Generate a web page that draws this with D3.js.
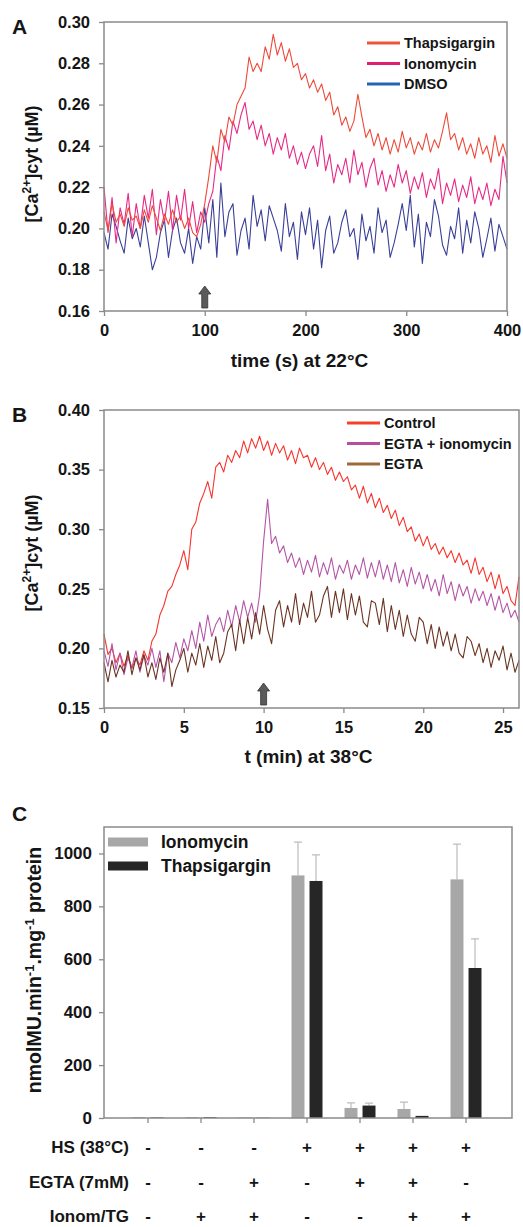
<!DOCTYPE html>
<html>
<head>
<meta charset="utf-8">
<script src="https://cdn.jsdelivr.net/npm/d3@7"></script>
<style>
body { margin: 0; background: #fff; }
text { font-family: "Liberation Sans", Arial, sans-serif; font-weight: bold; fill: #151515; }
</style>
</head>
<body>
<div id="chart"></div>
<script>
// ---- panel A : [Ca2+]cyt at 22°C, one reading every 4 s ----
var timeA = d3.range(0, 404, 4);
var thapsA = [
    .208,.199,.212,.203,.207, .201,.210,.204,.206,.200, .209,.203,.211,.205,.199, .207,.202,.209,.203,.206,
    .200,.205,.198,.196,.202, .212,.225,.240,.232,.248, .242,.254,.250,.260,.264, .268,.283,.276,.280,.276,
    .288,.282,.294,.284,.290, .281,.287,.278,.280,.272, .275,.268,.272,.266,.270, .262,.266,.255,.259,.250,
    .254,.247,.252,.265,.254, .244,.248,.240,.246,.238, .244,.236,.243,.237,.247, .239,.244,.236,.242,.238,
    .246,.237,.243,.239,.247, .256,.243,.246,.238,.244, .236,.241,.234,.244,.236, .240,.232,.245,.235,.241,
    .234];
var ionoA = [
    .220,.198,.215,.193,.210, .202,.217,.196,.212,.200, .216,.205,.219,.197,.214, .203,.218,.199,.216,.204,
    .219,.200,.213,.198,.208, .203,.212,.218,.235,.228, .245,.238,.252,.246,.255, .261,.248,.252,.243,.250,
    .240,.246,.236,.244,.238, .246,.234,.240,.231,.237, .229,.236,.240,.230,.245, .228,.236,.222,.231,.226,
    .234,.222,.238,.226,.232, .220,.229,.234,.221,.228, .218,.226,.220,.231,.222, .228,.217,.225,.219,.227,
    .215,.224,.219,.229,.212, .222,.216,.224,.213,.221, .215,.225,.212,.220,.214, .222,.211,.219,.214,.235,
    .222];
var dmsoA = [
    .198,.190,.207,.201,.194, .188,.205,.195,.200,.191, .206,.193,.180,.186,.198, .204,.186,.199,.205,.193,
    .188,.200,.183,.196,.190, .210,.193,.214,.186,.222, .196,.208,.212,.187,.199, .205,.190,.216,.201,.209,
    .194,.211,.205,.199,.189, .212,.196,.203,.185,.208, .197,.210,.190,.204,.181, .199,.206,.188,.193,.203,
    .209,.196,.200,.185,.207, .194,.201,.188,.210,.198, .204,.186,.193,.202,.212, .199,.216,.191,.207,.183,
    .203,.196,.214,.206,.192, .187,.201,.195,.210,.188, .204,.193,.208,.200,.186, .195,.205,.189,.202,.196,
    .190];
var ticksAx = [0, 100, 200, 300, 400];
var ticksAy = [0.16, 0.18, 0.20, 0.22, 0.24, 0.26, 0.28, 0.30];
var arrowA = 100;

// ---- panel B : [Ca2+]cyt at 38°C, one reading every 0.25 min ----
var timeB = d3.range(0, 26.25, 0.25);
var controlB = [
    .212,.195,.200,.188, .196,.185,.194,.183, .192,.186,.198,.190, .206,.212,.228,.236, .248,.252,.262,.270,
    .282,.266,.300,.306, .322,.330,.340,.326, .352,.356,.348,.362, .356,.366,.360,.374, .364,.376,.368,.378,
    .366,.374,.362,.372, .364,.370,.358,.366, .355,.368,.360,.362, .352,.360,.350,.356, .346,.352,.341,.348,
    .340,.344,.333,.337, .326,.336,.322,.330, .318,.326,.314,.320, .309,.316,.303,.310, .298,.302,.290,.296,
    .286,.294,.283,.288, .279,.285,.276,.282, .272,.280,.270,.274, .263,.276,.262,.268, .256,.264,.250,.262,
    .246,.252,.240,.236, .260];
var egtaIonoB = [
    .198,.185,.204,.182, .196,.178,.192,.184, .198,.180,.194,.186, .200,.184,.198,.172, .196,.188,.205,.192,
    .208,.198,.215,.200, .222,.206,.228,.210, .220,.226,.214,.232, .218,.236,.222,.240, .226,.238,.222,.245,
    .290,.325,.288,.294, .280,.286,.272,.280, .268,.276,.262,.274, .264,.278,.260,.272, .262,.276,.258,.270,
    .263,.274,.258,.270, .262,.276,.259,.272, .260,.274,.258,.270, .256,.272,.255,.266, .252,.268,.254,.264,
    .250,.262,.248,.258, .244,.262,.246,.256, .240,.254,.244,.252, .238,.250,.240,.248, .236,.246,.232,.244,
    .230,.238,.226,.232, .222];
var egtaB = [
    .188,.172,.190,.176, .186,.180,.198,.178, .192,.182,.195,.176, .188,.174,.192,.180, .196,.168,.182,.190,
    .200,.180,.196,.186, .204,.184,.202,.190, .210,.188,.196,.214, .220,.198,.224,.204, .226,.208,.230,.212,
    .236,.216,.204,.232, .240,.218,.236,.222, .246,.220,.238,.226, .248,.222,.228,.244, .252,.226,.248,.230,
    .250,.224,.246,.228, .244,.222,.218,.240, .238,.220,.242,.214, .236,.216,.232,.210, .228,.212,.206,.226,
    .222,.204,.220,.200, .218,.202,.214,.198, .212,.196,.192,.210, .206,.194,.204,.188, .200,.184,.198,.190,
    .202,.182,.196,.180, .190];
var ticksBx = [0, 5, 10, 15, 20, 25];
var ticksBy = [0.15, 0.20, 0.25, 0.30, 0.35, 0.40];
var arrowB = 10;

// ---- panel C : GUS activity ----
var groups = ["g1", "g2", "g3", "g4", "g5", "g6", "g7"];
var ionoC = [3, 3, 2, 917, 38, 34, 902];
var ionoErr = [0, 0, 0, 126, 19, 26, 133];
var thapsC = [2, 3, 1, 896, 47, 8, 567];
var thapsErr = [0, 0, 0, 99, 9, 0, 110];
var ticksCy = [0, 200, 400, 600, 800, 1000];
var rowHS = ["-", "-", "-", "+", "+", "+", "+"];
var rowEGTA = ["-", "-", "+", "-", "+", "+", "-"];
var rowIonom = ["-", "+", "+", "-", "-", "+", "+"];

var width = 523;
var height = 1227;
var frameColour = "#8a8a8a";

var svg = d3.select("#chart")
    .append("svg")
    .attr("width", width)
    .attr("height", height);

function styleAxis(axis, size) {
    axis.select(".domain").remove();
    axis.selectAll(".tick line").attr("stroke", frameColour).attr("stroke-width", 1.3);
    axis.selectAll(".tick text")
        .style("font-family", "'Liberation Sans', Arial, sans-serif")
        .style("font-weight", "bold")
        .style("font-size", size + "px")
        .attr("fill", "#151515");
}

function caLabel(g, x, y) {
    var t = g.append("text")
        .attr("transform", "translate(" + x + "," + y + ") rotate(-90)")
        .attr("text-anchor", "middle")
        .style("font-size", "18px");
    t.append("tspan").text("[Ca");
    t.append("tspan").attr("dy", -7).style("font-size", "12px").text("2+");
    t.append("tspan").attr("dy", 7).text("]cyt (\u00b5M)");
}

function drawTraces(p) {
    var x = d3.scaleLinear().domain(p.xDomain).range([p.left, p.right]);
    var y = d3.scaleLinear().domain(p.yDomain).range([p.bottom, p.top]);
    var g = svg.append("g");

    var yAxis = g.append("g")
        .attr("transform", "translate(" + p.left + ",0)")
        .call(d3.axisLeft(y).tickValues(p.yTicks).tickFormat(d3.format(".2f")).tickSize(5).tickPadding(9));
    styleAxis(yAxis, 16.5);
    var xAxis = g.append("g")
        .attr("transform", "translate(0," + p.bottom + ")")
        .call(d3.axisBottom(x).tickValues(p.xTicks).tickSize(5).tickPadding(8));
    styleAxis(xAxis, 16.5);

    var line = d3.line()
        .x(function (d, i) { return x(p.time[i]); })
        .y(function (d) { return y(d); });

    p.series.forEach(function (s) {
        g.append("path")
            .datum(s.values)
            .attr("d", line)
            .attr("fill", "none")
            .attr("stroke", s.colour)
            .attr("stroke-width", 1.1)
            .attr("stroke-linejoin", "round");
    });

    g.append("rect")
        .attr("x", p.left)
        .attr("y", p.top)
        .attr("width", p.right - p.left)
        .attr("height", p.bottom - p.top)
        .attr("fill", "none")
        .attr("stroke", frameColour)
        .attr("stroke-width", 1.5);

    // arrow marking the addition
    var ax = x(p.arrow);
    var ab = p.bottom - 3;
    g.append("path")
        .attr("d", "M" + ax + "," + (ab - 22) + " l6,8 h-3 v14 h-6 v-14 h-3 z")
        .attr("fill", "#5a5a5a")
        .attr("stroke", "#333")
        .attr("stroke-width", 0.8);

    var legend = g.selectAll(".legend")
        .data(p.legend)
        .enter()
        .append("g")
        .attr("class", "legend")
        .attr("transform", function (d, i) {
            return "translate(" + p.legendX + "," + (p.legendY + i * 20.5) + ")";
        });
    legend.append("line")
        .attr("x1", 0).attr("x2", 33)
        .attr("stroke", function (d) { return d.key; })
        .attr("stroke-width", 3);
    legend.append("text")
        .attr("x", 37)
        .attr("dy", "0.36em")
        .style("font-size", "14.5px")
        .text(function (d) { return d.name; });

    g.append("text")
        .attr("x", (p.left + p.right) / 2 + p.titleShift)
        .attr("y", p.titleY)
        .attr("text-anchor", "middle")
        .style("font-size", "19px")
        .text(p.title);

    caLabel(g, 38, p.labelY);

    g.append("text")
        .attr("x", 12)
        .attr("y", p.top + p.letterDy)
        .style("font-size", "21px")
        .text(p.letter);
}

var dmso = { name: "DMSO", values: dmsoA, colour: "#3a3f98", key: "#2463b6" };
var iono = { name: "Ionomycin", values: ionoA, colour: "#e62a86", key: "#e0206e" };
var thaps = { name: "Thapsigargin", values: thapsA, colour: "#ee4a3a", key: "#f0553a" };

drawTraces({
    left: 104, right: 507, top: 22, bottom: 311,
    xDomain: [0, 400], yDomain: [0.16, 0.30],
    xTicks: ticksAx, yTicks: ticksAy,
    time: timeA, arrow: arrowA,
    series: [dmso, iono, thaps],
    legend: [thaps, iono, dmso],
    legendX: 367, legendY: 43,
    title: "time (s) at 22\u00b0C", titleY: 367, titleShift: -6,
    labelY: 164, letter: "A", letterDy: 12
});

var control = { name: "Control", values: controlB, colour: "#f7352d", key: "#f5402a" };
var egtaIono = { name: "EGTA + ionomycin", values: egtaIonoB, colour: "#b555a6", key: "#b84c9e" };
var egta = { name: "EGTA", values: egtaB, colour: "#6b3422", key: "#9c6a3a" };

drawTraces({
    left: 104, right: 519, top: 410, bottom: 708,
    xDomain: [0, 26], yDomain: [0.15, 0.40],
    xTicks: ticksBx, yTicks: ticksBy,
    time: timeB, arrow: arrowB,
    series: [control, egtaIono, egta],
    legend: [control, egtaIono, egta],
    legendX: 347, legendY: 423,
    title: "t (min) at 38\u00b0C", titleY: 763, titleShift: -3,
    labelY: 553, letter: "B", letterDy: 12
});

// ---- panel C bars ----
var cLeft = 104, cRight = 512, cTop = 827, cBottom = 1118;
var x0 = d3.scaleBand().domain(groups).range([121.5, 492.5]).paddingInner(0);
var x1 = d3.scaleBand().domain(["Ionomycin", "Thapsigargin"]).range([-15.5, 15.5]).paddingInner(0.28);
var yC = d3.scaleLinear().domain([0, 1100]).range([cBottom, cTop]);
var barColour = d3.scaleOrdinal().domain(["Ionomycin", "Thapsigargin"]).range(["#a7a7a7", "#262626"]);

var gc = svg.append("g");

var yAxisC = gc.append("g")
    .attr("transform", "translate(" + cLeft + ",0)")
    .call(d3.axisLeft(yC).tickValues(ticksCy).tickFormat(d3.format("d")).tickSize(5).tickPadding(7));
styleAxis(yAxisC, 17);
var xAxisC = gc.append("g")
    .attr("transform", "translate(0," + cBottom + ")")
    .call(d3.axisBottom(x0).tickSize(5).tickFormat(""));
styleAxis(xAxisC, 17);

var barData = groups.map(function (g, i) {
    return [
        { group: g, key: "Ionomycin", value: ionoC[i], err: ionoErr[i] },
        { group: g, key: "Thapsigargin", value: thapsC[i], err: thapsErr[i] }
    ];
});

var grp = gc.selectAll(".grp")
    .data(barData)
    .enter()
    .append("g")
    .attr("class", "grp")
    .attr("transform", function (d) { return "translate(" + (x0(d[0].group) + x0.bandwidth() / 2) + ",0)"; });

grp.selectAll(".err")
    .data(function (d) { return d.filter(function (b) { return b.err > 0; }); })
    .enter()
    .append("path")
    .attr("class", "err")
    .attr("d", function (d) {
        var cx = x1(d.key) + x1.bandwidth() / 2;
        return "M" + cx + "," + yC(d.value) + " V" + yC(d.value + d.err) +
            " M" + (cx - 4) + "," + yC(d.value + d.err) + " H" + (cx + 4);
    })
    .attr("stroke", "#bdbdbd")
    .attr("stroke-width", 1.2)
    .attr("fill", "none");

grp.selectAll("rect")
    .data(function (d) { return d; })
    .enter()
    .append("rect")
    .attr("x", function (d) { return x1(d.key); })
    .attr("width", x1.bandwidth())
    .attr("y", function (d) { return yC(d.value); })
    .attr("height", function (d) { return cBottom - yC(d.value); })
    .attr("fill", function (d) { return barColour(d.key); });

gc.append("rect")
    .attr("x", cLeft)
    .attr("y", cTop)
    .attr("width", cRight - cLeft)
    .attr("height", cBottom - cTop)
    .attr("fill", "none")
    .attr("stroke", frameColour)
    .attr("stroke-width", 1.5);

var legendC = gc.selectAll(".legendC")
    .data(barColour.domain())
    .enter()
    .append("g")
    .attr("class", "legendC")
    .attr("transform", function (d, i) { return "translate(108," + (842 + i * 24) + ")"; });
legendC.append("rect")
    .attr("y", -4.5)
    .attr("width", 40)
    .attr("height", 9)
    .attr("fill", barColour);
legendC.append("text")
    .attr("x", 53)
    .attr("dy", "0.36em")
    .style("font-size", "17.5px")
    .text(function (d) { return d; });

var yt = gc.append("text")
    .attr("transform", "translate(41,970) rotate(-90)")
    .attr("text-anchor", "middle")
    .style("font-size", "19.5px");
yt.append("tspan").text("nmolMU.min");
yt.append("tspan").attr("dy", -7).style("font-size", "13px").text("-1");
yt.append("tspan").attr("dy", 7).text(".mg");
yt.append("tspan").attr("dy", -7).style("font-size", "13px").text("-1");
yt.append("tspan").attr("dy", 7).text(" protein");

gc.append("text")
    .attr("x", 12)
    .attr("y", 821)
    .style("font-size", "21px")
    .text("C");

// condition table under the bars
var rows = [
    { label: "HS (38\u00b0C)", signs: rowHS, y: 1147 },
    { label: "EGTA (7mM)", signs: rowEGTA, y: 1182 },
    { label: "Ionom/TG", signs: rowIonom, y: 1216 }
];
var row = gc.selectAll(".row")
    .data(rows)
    .enter()
    .append("g")
    .attr("class", "row")
    .attr("transform", function (d) { return "translate(0," + d.y + ")"; });
row.append("text")
    .attr("x", 129)
    .attr("dy", "0.36em")
    .attr("text-anchor", "end")
    .style("font-size", "17px")
    .text(function (d) { return d.label; });
row.selectAll(".sign")
    .data(function (d) { return d.signs; })
    .enter()
    .append("text")
    .attr("class", "sign")
    .attr("x", function (d, i) { return x0(groups[i]) + x0.bandwidth() / 2; })
    .attr("dy", "0.36em")
    .attr("text-anchor", "middle")
    .style("font-size", "17px")
    .text(function (d) { return d; });
</script>
</body>
</html>
